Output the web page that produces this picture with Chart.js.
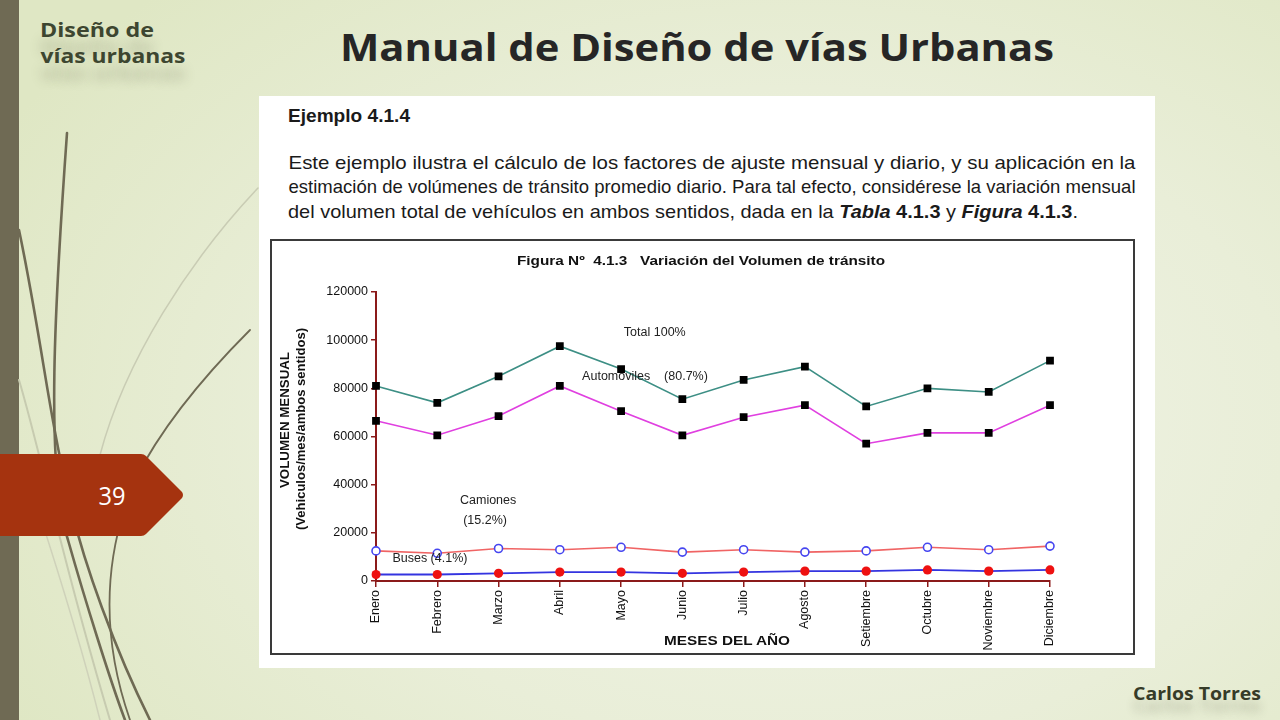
<!DOCTYPE html>
<html>
<head>
<meta charset="utf-8">
<script src="https://cdn.jsdelivr.net/npm/chart.js@4.4.1/dist/chart.umd.min.js"></script>
<style>
  html,body{margin:0;padding:0;}
  body{width:1280px;height:720px;overflow:hidden;position:relative;
    background: radial-gradient(ellipse 900px 600px at 62% 58%, #f1f4e8 0%, #e9eed8 55%, #dfe7c4 100%);
    font-family:"Liberation Sans", Arial, sans-serif;}
  .abs{position:absolute;white-space:nowrap;line-height:1;}
  #bar{position:absolute;left:0;top:0;width:19px;height:720px;background:#6f6a54;}
  #deco{position:absolute;left:0;top:0;}
  #paper{position:absolute;left:259px;top:96px;width:896px;height:572px;background:#fff;}
  #frame{position:absolute;left:270px;top:239px;width:861px;height:412px;border:2px solid #3a3a3a;}
  #cv{position:absolute;left:272px;top:241px;}
  .slide{font-family:"Open Sans","Lato",sans-serif;font-weight:700;}
  .shadow{text-shadow:0 17px 11px rgba(90,95,70,0.28);}
  .doc{font-family:"Liberation Sans Narrow","Liberation Sans",Arial,sans-serif;color:#1a1a1a;}
  .ax{font-family:"Liberation Sans",Arial,sans-serif;font-weight:700;color:#111;}
</style>
</head>
<body>
<div id="bar"></div>
<svg id="deco" width="300" height="720" viewBox="0 0 300 720">
  <g fill="none" stroke-linecap="round">
    <path d="M 258 188 C 190 260, 125 360, 100 455" stroke="#c9ccb4" stroke-width="1.5"/>
    <path d="M 19 380 C 40 450, 62 560, 110 720" stroke="#c7cbb0" stroke-width="2"/>
    <path d="M 25 470 C 55 560, 80 640, 100 720" stroke="#cfd2ba" stroke-width="1.5"/>
    <path d="M 67 133 C 55 300, 45 470, 68 540 C 85 600, 110 680, 125 720" stroke="#6f6a54" stroke-width="2.6"/>
    <path d="M 19 230 C 40 330, 50 420, 65 480 C 80 560, 120 660, 150 720" stroke="#6f6a54" stroke-width="2.6"/>
    <path d="M 250 330 C 200 380, 160 430, 135 480 C 110 540, 95 620, 130 720" stroke="#6f6a54" stroke-width="1.8"/>
  </g>
</svg>
<svg class="abs" style="left:0;top:454px" width="190" height="84">
  <path d="M0 0 L141 0 Q144 0 146 2 L182 38 Q184 41 182 44 L146 80 Q144 82 141 82 L0 82 Z" fill="#a5330f"/>
</svg>
<div class="abs slide fit" data-cx="112" data-cy="495" data-w="27" style="font-size:25px;color:#fff;font-weight:400;">39</div>

<div class="abs slide fit shadow" data-cx="97" data-cy="30" data-w="114" style="font-size:19px;color:#3d4630;">Diseño de</div>
<div class="abs slide fit shadow" data-cx="112.5" data-cy="56" data-w="145" style="font-size:19px;color:#3d4630;">vías urbanas</div>
<div class="abs slide fit" data-cx="697" data-cy="46" data-w="714" style="font-size:37px;color:#262626;">Manual de Diseño de vías Urbanas</div>
<div class="abs slide fit" data-cx="1197" data-cy="693" data-w="128" style="font-size:17px;color:#363b28;text-shadow:0 12px 8px rgba(90,95,70,0.25);">Carlos Torres</div>

<div id="paper"></div>
<div class="abs doc fit" data-cx="349" data-cy="116" data-w="122" style="font-size:18.5px;font-weight:700;">Ejemplo 4.1.4</div>
<div class="abs doc fit" data-cx="711.5" data-cy="162" data-w="847" style="font-size:19px;">Este ejemplo ilustra el cálculo de los factores de ajuste mensual y diario, y su aplicación en la</div>
<div class="abs doc fit" data-cx="711.5" data-cy="186" data-w="847" style="font-size:19px;">estimación de volúmenes de tránsito promedio diario. Para tal efecto, considérese la variación mensual</div>
<div class="abs doc fit" data-cx="683" data-cy="211" data-w="790" style="font-size:19px;">del volumen total de vehículos en ambos sentidos, dada en la <b><i>Tabla</i> 4.1.3</b> y <b><i>Figura</i> 4.1.3</b>.</div>

<div id="frame"></div>
<canvas id="cv" width="861" height="412"></canvas>
<div class="abs ax fit" data-cx="701" data-cy="261" data-w="368" style="font-size:12.5px;">Figura Nº&nbsp; 4.1.3&nbsp;&nbsp; Variación del Volumen de tránsito</div>
<div class="abs ax fit" data-cx="284" data-cy="420" data-w="136" data-rot="1" style="font-size:13px;">VOLUMEN MENSUAL</div>
<div class="abs ax fit" data-cx="300" data-cy="429" data-w="202" data-rot="1" style="font-size:13px;">(Vehiculos/mes/ambos sentidos)</div>
<div class="abs ax fit" data-cx="727" data-cy="640" data-w="126" style="font-size:13px;">MESES DEL AÑO</div>

<script>
// ---- data ----
const meses = ['Enero','Febrero','Marzo','Abril','Mayo','Junio','Julio','Agosto','Setiembre','Octubre','Noviembre','Diciembre'];
const total       = [81000, 74000, 85000, 97500, 88000, 75500, 83500, 89000, 72500, 80000, 78500, 91500];
const automoviles = [66500, 60500, 68500, 81000, 70500, 60500, 68000, 73000, 57000, 61500, 61500, 73000];
const camiones    = [12500, 11500, 13500, 13000, 14000, 12000, 13000, 12000, 12500, 14000, 13000, 14500];
const buses       = [ 2700,  2700,  3200,  3700,  3700,  3200,  3700,  4100,  4100,  4600,  4100,  4600];
const yMin = 0, yMax = 120000, yStep = 20000;
const notaTextos = ['Total 100%', 'Automoviles    (80.7%)', 'Camiones', '(15.2%)', 'Buses (4.1%)'];
const notaX = [4.55, 4.39, 1.83, 1.78, 0.88];
const notaY = [103000, 84700, 33600, 25300, 9500];

// fit html texts
function fitTexts(){
  document.querySelectorAll('.fit').forEach(el=>{
    const w = el.getBoundingClientRect().width;
    const s = parseFloat(el.dataset.w)/w;
    const rot = el.dataset.rot ? ' rotate(-90deg)' : '';
    el.style.left = el.dataset.cx + 'px';
    el.style.top = el.dataset.cy + 'px';
    el.style.transform = 'translate(-50%,-50%)' + rot + ' scaleX(' + s + ')';
  });
}
fitTexts();

const notasPlugin = {
  id: 'notas',
  afterDatasetsDraw(chart){
    const ctx = chart.ctx, xs = chart.scales.x, ys = chart.scales.y;
    ctx.save();
    ctx.font = '12.5px "Liberation Sans", Arial, sans-serif';
    ctx.fillStyle = '#222';
    ctx.textAlign = 'center';
    ctx.textBaseline = 'middle';
    notaTextos.forEach((t,i)=>{
      ctx.fillText(t, xs.getPixelForValue(notaX[i]), ys.getPixelForValue(notaY[i]));
    });
    ctx.restore();
  }
};

const axisRed = '#8b1a1a';
new Chart(document.getElementById('cv'), {
  type: 'line',
  data: {
    labels: meses,
    datasets: [
      {data: total, borderColor:'#3d8f85', borderWidth:1.6, pointStyle:'rect', pointRadius:5.5,
       pointBackgroundColor:'#000', pointBorderColor:'#000', pointBorderWidth:0, tension:0},
      {data: automoviles, borderColor:'#e040e0', borderWidth:1.6, pointStyle:'rect', pointRadius:5.5,
       pointBackgroundColor:'#000', pointBorderColor:'#000', pointBorderWidth:0, tension:0},
      {data: camiones, borderColor:'#f06464', borderWidth:1.6, pointStyle:'circle', pointRadius:4,
       pointBackgroundColor:'#fff', pointBorderColor:'#4646f0', pointBorderWidth:1.6, tension:0},
      {data: buses, borderColor:'#3434e0', borderWidth:1.8, pointStyle:'circle', pointRadius:4.6,
       pointBackgroundColor:'#ee1111', pointBorderColor:'#ee1111', pointBorderWidth:0, tension:0}
    ]
  },
  options: {
    responsive:false, animation:false, devicePixelRatio:1,
    layout:{padding:{top:51, right:83, bottom:0, left:0}},
    plugins:{legend:{display:false}, tooltip:{enabled:false}, title:{display:false}},
    scales:{
      x:{ type:'category', offset:false,
          grid:{drawOnChartArea:false, drawTicks:true, tickLength:6, color:axisRed, lineWidth:1.5},
          border:{display:true, color:axisRed, width:2},
          ticks:{autoSkip:false, maxRotation:90, minRotation:90, padding:3, color:'#111',
                 font:{family:'"Liberation Sans", Arial, sans-serif', size:12.5}},
          afterFit(s){ s.height = 72; } },
      y:{ min:yMin, max:yMax,
          grid:{drawOnChartArea:false, drawTicks:true, tickLength:5, color:axisRed, lineWidth:1.5},
          border:{display:true, color:axisRed, width:2},
          ticks:{stepSize:yStep, padding:3, color:'#111', callback:v=>String(v),
                 font:{family:'"Liberation Sans", Arial, sans-serif', size:12.5}},
          afterFit(s){ s.width = 104; } }
    }
  },
  plugins:[notasPlugin]
});
</script>
</body>
</html>
